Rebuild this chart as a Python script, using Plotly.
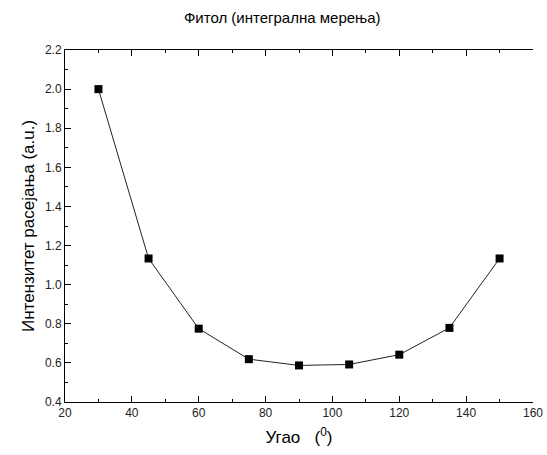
import plotly.graph_objects as go

# angle (degrees) and integrated scattering intensity
ugao = [30, 45, 60, 75, 90, 105, 120, 135, 150]
intenzitet = [2.0, 1.134, 0.775, 0.619, 0.587, 0.592, 0.642, 0.779, 1.134]

fig = go.Figure()

fig.add_trace(go.Scatter(
    x=ugao, y=intenzitet, mode="lines+markers",
    line=dict(color="#222222", width=1),
    marker=dict(symbol="square", size=8, color="black"),
    showlegend=False
))

font = "Liberation Sans, Arial, sans-serif"

fig.update_xaxes(
    range=[20, 160], dtick=20, showgrid=False, zeroline=False, automargin=False,
    showline=True, linecolor="black", linewidth=1, mirror="allticks",
    ticks="inside", ticklen=6, tickcolor="black", tickwidth=1,
    minor=dict(ticks="inside", ticklen=3, dtick=10, tickcolor="black"),
    tickfont=dict(family=font, size=12, color="#222222"),
    title=dict(text="Угао   (<sup>0</sup>)", font=dict(family=font, size=17, color="black"), standoff=11)
)
fig.update_yaxes(
    range=[0.4, 2.2], dtick=0.2, tickformat=".1f", showgrid=False, zeroline=False, automargin=False,
    showline=True, linecolor="black", linewidth=1, mirror=False,
    ticks="inside", ticklen=6, tickcolor="black", tickwidth=1,
    minor=dict(ticks="inside", ticklen=3, dtick=0.1, tickcolor="black"),
    tickfont=dict(family=font, size=12, color="#222222"),
    title=dict(text="Интензитет расејања (a.u.)", font=dict(family=font, size=17, color="black"), standoff=5)
)

fig.update_layout(
    width=547, height=455,
    margin=dict(l=65, r=14, t=50, b=53),
    paper_bgcolor="white", plot_bgcolor="white",
    title=dict(text="Фитол (интегрална мерења)", x=0.516, xanchor="center", y=0.96, yanchor="middle",
               font=dict(family=font, size=15, color="black"))
)

# drop the page's default body margin so the figure fills the window exactly
fig.write_html("out.html", config={"displayModeBar": False},
               post_script="document.body.style.margin='0';")
